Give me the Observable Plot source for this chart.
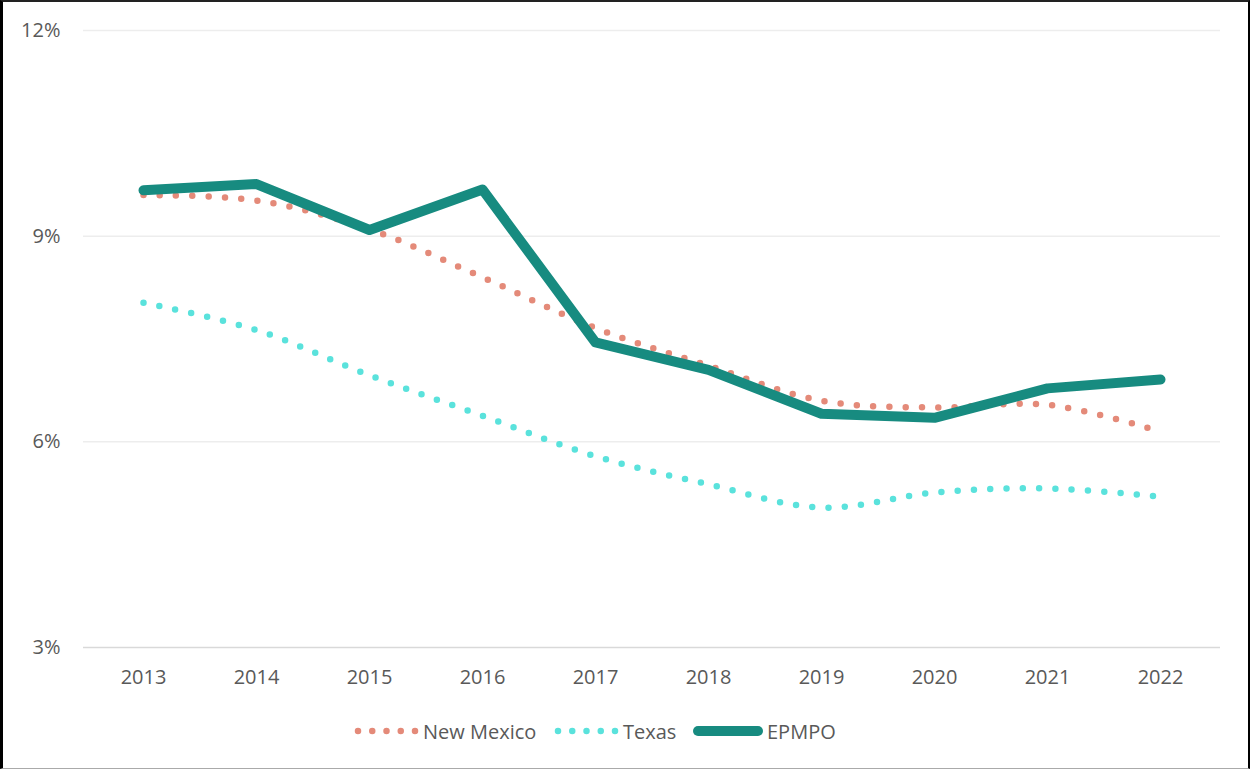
<!DOCTYPE html>
<html>
<head>
<meta charset="utf-8">
<script src="https://cdn.jsdelivr.net/npm/d3@7"></script>
<script src="https://cdn.jsdelivr.net/npm/@observablehq/plot@0.6"></script>
<style>
  body { margin: 0; background: #fff; }
  #wrap { position: relative; width: 1250px; height: 769px; overflow: hidden; background: #fff; font-family: "Open Sans", sans-serif; }
  #frame { position: absolute; left: 0; top: 0; width: 1250px; height: 769px; box-sizing: border-box;
    border-top: 2px solid #222; border-left: 3px solid #000; border-right: 2px solid #000; border-bottom: 1px solid #aaa;
    pointer-events: none; z-index: 5; }
  #chart { position: absolute; left: 0; top: 0; }
  #legend { position: absolute; left: 0; top: 717px; width: 1250px; height: 28px;
    font-size: 20px; color: #595959; }
  .item { position: absolute; top: 0; height: 28px; display: flex; align-items: center; white-space: nowrap; }
  .item svg { display: block; margin-right: 3px; }
</style>
</head>
<body>
<div id="wrap">
  <div id="chart"></div>
  <div id="legend"></div>
  <div id="frame"></div>
</div>
<script>
const years = ["2013","2014","2015","2016","2017","2018","2019","2020","2021","2022"];
const newMexico = [9.60, 9.52, 9.10, 8.40, 7.66, 7.11, 6.60, 6.50, 6.54, 6.15];
const texas     = [8.03, 7.63, 6.97, 6.38, 5.79, 5.38, 5.04, 5.26, 5.32, 5.20];
const epmpo     = [9.67, 9.76, 9.09, 9.68, 7.45, 7.05, 6.41, 6.35, 6.78, 6.91];
const yTicks = [3, 6, 9, 12];
const seriesNames = ["New Mexico", "Texas", "EPMPO"];
const seriesColors = ["#E48A79", "#5AE2DC", "#178B80"];
const legendLeft = [352, 552, 692];

const table = (vals) => years.map((y, i) => ({year: y, value: vals[i]}));

const chart = Plot.plot({
  width: 1250,
  height: 700,
  marginLeft: 83,
  marginRight: 30,
  marginTop: 30,
  marginBottom: 53,
  style: {fontFamily: "Open Sans", fontSize: "20px", color: "#595959", background: "transparent"},
  x: {type: "point", domain: years, padding: 0.5, label: null, tickSize: 0, tickPadding: 22},
  y: {domain: [3, 12], ticks: yTicks, tickFormat: d => d + "%", tickSize: 0, tickPadding: 23, label: null},
  marks: [
    Plot.ruleY(yTicks.filter(d => d !== 3), {stroke: "#ededed", strokeWidth: 1.5}),
    Plot.ruleY([3], {stroke: "#d9d9d9", strokeWidth: 1.5}),
    Plot.line(table(newMexico), {x: "year", y: "value", curve: "catmull-rom", stroke: seriesColors[0],
      strokeWidth: 6.5, strokeDasharray: "0 16.3", strokeLinecap: "round"}),
    Plot.line(table(texas), {x: "year", y: "value", curve: "catmull-rom", stroke: seriesColors[1],
      strokeWidth: 6.5, strokeDasharray: "0 16.3", strokeLinecap: "round"}),
    Plot.line(table(epmpo), {x: "year", y: "value", stroke: seriesColors[2],
      strokeWidth: 10, strokeLinecap: "round", strokeLinejoin: "round"})
  ]
});
document.getElementById("chart").appendChild(chart);

// legend
const legend = d3.select("#legend");
seriesNames.forEach((name, i) => {
  const item = legend.append("div").attr("class", "item").style("left", legendLeft[i] + "px");
  const svg = item.append("svg").attr("width", i === 2 ? 72 : 68).attr("height", 14);
  if (i < 2) {
    svg.append("line").attr("x1", 6).attr("x2", 63.2).attr("y1", 7).attr("y2", 7)
      .attr("stroke", seriesColors[i]).attr("stroke-width", 6.5)
      .attr("stroke-dasharray", "0 14.25").attr("stroke-linecap", "round");
  } else {
    svg.append("line").attr("x1", 6).attr("x2", 66).attr("y1", 7).attr("y2", 7)
      .attr("stroke", seriesColors[i]).attr("stroke-width", 10).attr("stroke-linecap", "round");
  }
  item.append("span").text(name);
});
</script>
</body>
</html>
